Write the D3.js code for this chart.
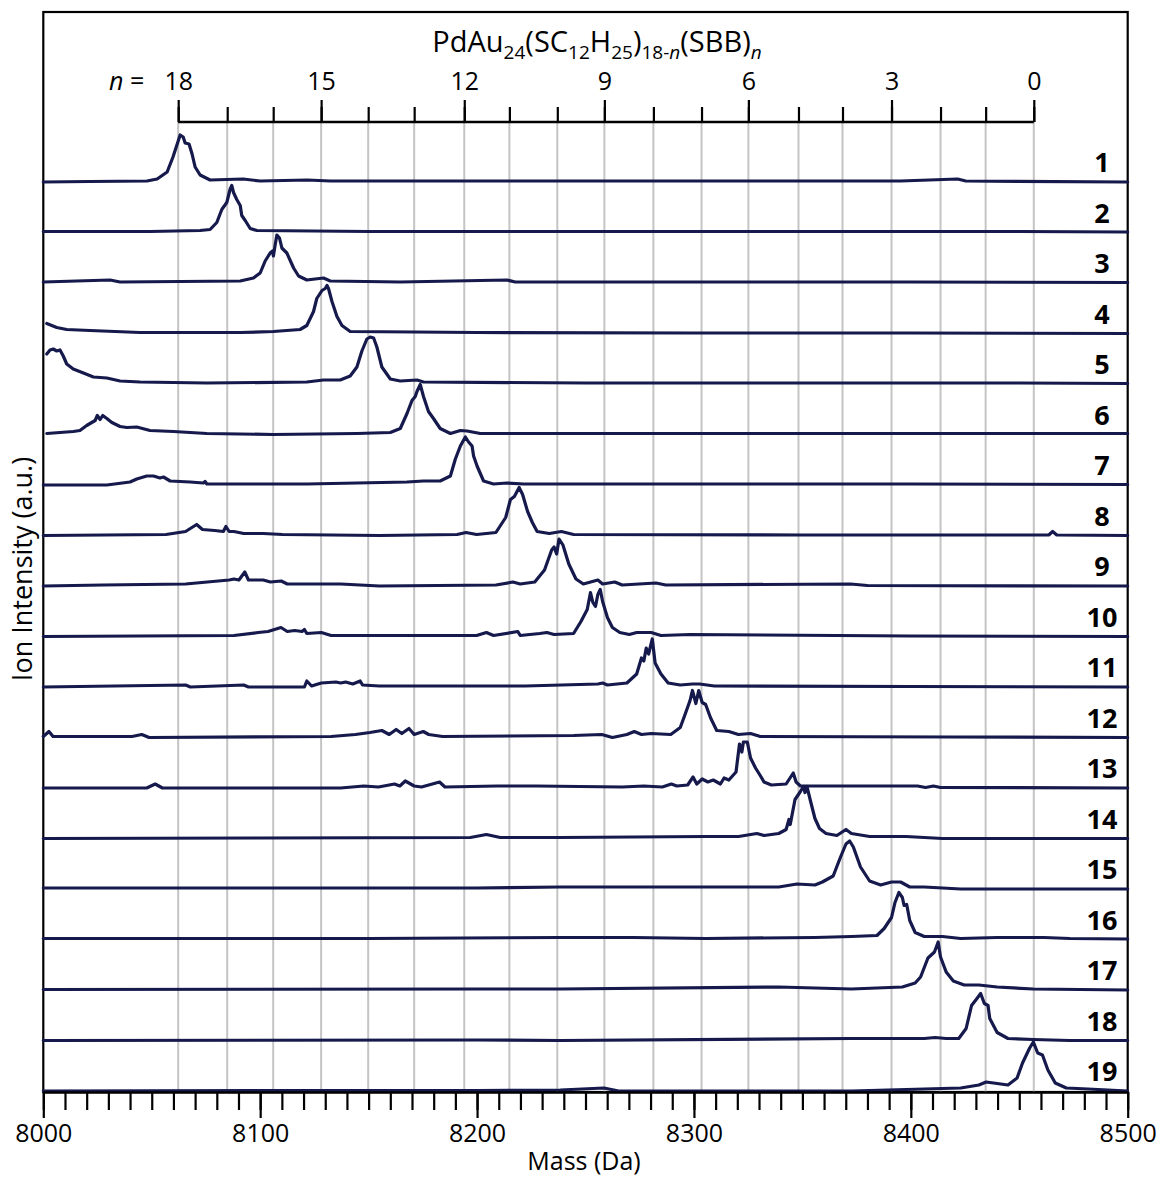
<!DOCTYPE html>
<html>
<head>
<meta charset="utf-8">
<script src="https://cdn.jsdelivr.net/npm/d3@7"></script>
<style>
  html, body { margin: 0; padding: 0; background: #fff; }
  svg { display: block; }
  text { font-family: "Open Sans", "Noto Sans", sans-serif; fill: #000; }
</style>
</head>
<body>
<svg id="chart" width="1162" height="1180"></svg>
<script>
// ---- Mass axis ticks (Da) ----
const massTicks = [8000, 8100, 8200, 8300, 8400, 8500];
const minorMassTicks = d3.range(8000, 8501, 10);

// ---- Ligand-exchange positions: n (number of SBB ligands) and their mass ----
const nValues = [18, 17, 16, 15, 14, 13, 12, 11, 10, 9, 8, 7, 6, 5, 4, 3, 2, 1, 0];
const nMass = [8062.2, 8084.8, 8106.0, 8128.1, 8149.8, 8171.0, 8194.1, 8214.9, 8237.0,
               8258.7, 8281.3, 8303.5, 8325.1, 8348.2, 8368.5, 8391.1, 8413.7, 8434.5, 8456.7];
const nLabelled = [18, 15, 12, 9, 6, 3, 0];

// ---- Sample names ----
const sampleLabels = ["1","2","3","4","5","6","7","8","9","10","11","12","13","14","15","16","17","18","19"];

// ---- Spectra: [mass (Da), ion intensity (a.u.)] ----
const spectrum1 = [[8000,0],[8021.5,1],[8047.8,2],[8052.5,6],[8057.1,20],[8059.8,50],[8063.1,94],[8064.5,90],[8065.4,78],[8067.2,76],[8068.6,56],[8070.0,30],[8072.3,14],[8076.9,4],[8092.1,6],[8100,2],[8121.7,4],[8132.3,2],[8164.6,2],[8210.7,2],[8256.9,2],[8303,2],[8349.1,2],[8395.3,2],[8421.6,6],[8425.3,2],[8500,0]];
const spectrum2 = [[8000,2],[8049.2,2],[8072.3,4],[8076.9,6],[8080.0,20],[8082.3,46],[8084.6,60],[8086.1,86],[8086.9,94],[8087.7,80],[8089.2,66],[8090.8,54],[8091.5,34],[8093.1,24],[8095.4,8],[8098.5,4],[8150,2],[8250,2],[8350,2],[8450,2],[8500,1]];
const spectrum3 = [[8000,2],[8030.8,6],[8035.4,2],[8090.8,4],[8096.9,10],[8100.0,20],[8102.3,44],[8104.6,60],[8105.7,64],[8106.1,54],[8106.9,76],[8107.7,96],[8108.9,90],[8110.0,70],[8112.3,60],[8115.4,30],[8117.7,14],[8121.5,6],[8129.2,10],[8132.3,4],[8164.6,2],[8213.8,6],[8217.6,2],[8300,2],[8400,2],[8500,1]];
const spectrum4 = [[8001.6,20],[8006.2,12],[8010.8,8],[8021.5,6],[8044.6,2],[8090.8,2],[8106.1,4],[8118.4,8],[8121.5,16],[8124.6,44],[8126.1,70],[8128.5,86],[8130.0,90],[8130.8,96],[8131.5,90],[8133.1,64],[8135.4,34],[8137.7,16],[8141.5,4],[8200,2],[8300,1],[8400,1],[8500,0]];
const spectrum5 = [[8001.6,60],[8003.1,68],[8004.6,70],[8006.2,66],[8007.7,68],[8009.2,56],[8010.8,40],[8013.8,30],[8018.5,22],[8023.1,14],[8029.3,12],[8035.4,6],[8044.6,4],[8075.4,2],[8121.5,4],[8129.2,8],[8136.9,8],[8141.5,16],[8144.6,34],[8146.9,66],[8149.2,90],[8150.7,94],[8152.3,92],[8153.8,74],[8156.1,34],[8160.0,10],[8164.6,6],[8172.3,8],[8175.3,4],[8250,2],[8350,2],[8450,2],[8500,1]];
const spectrum6 = [[8001.6,2],[8013.8,6],[8016.9,8],[8020.0,18],[8023.9,28],[8024.9,38],[8026.2,30],[8027.4,38],[8029.3,32],[8031.6,24],[8035.4,16],[8038.5,14],[8043.1,15],[8049.2,8],[8060.0,6],[8075.4,2],[8106,0],[8144.6,2],[8160.0,4],[8164.6,12],[8167.7,42],[8170.0,68],[8171.5,76],[8172.3,86],[8173.8,100],[8175.3,76],[8177.6,46],[8179.9,32],[8183.0,12],[8187.7,2],[8192.3,8],[8195.4,7],[8201.5,2],[8300,2],[8400,2],[8500,2]];
const spectrum7 = [[8000,0],[8029.3,0],[8040,6],[8043.1,12],[8047.7,18],[8050.8,18],[8053.8,14],[8055.4,16],[8058.5,8],[8067.7,6],[8073.8,4],[8074.6,7],[8075.4,2],[8121.5,2],[8167.7,6],[8175.3,8],[8183.0,8],[8187.7,18],[8190.0,52],[8192.3,78],[8194.6,96],[8196.1,86],[8197.7,78],[8198.4,58],[8200.0,38],[8203.0,8],[8207.6,2],[8213.8,4],[8221.5,2],[8300,2],[8400,2],[8500,1]];
const spectrum8 = [[8000,0],[8056.6,2],[8065.6,8],[8070.7,22],[8073.4,12],[8079.0,10],[8083.0,8],[8084.2,18],[8085.7,8],[8087.9,8],[8092.4,4],[8101.4,4],[8110.3,2],[8155,0],[8190.8,2],[8194.9,6],[8199.8,2],[8208.7,6],[8213.2,36],[8215.4,72],[8217.2,78],[8219.4,96],[8221.0,82],[8223.3,48],[8225.5,26],[8227.7,8],[8233.3,4],[8238.9,8],[8244.5,2],[8350,1],[8463.6,1],[8465.4,8],[8467.3,1],[8500,0]];
const spectrum9 = [[8000,0],[8027.5,2],[8065.6,4],[8085.7,12],[8087.9,14],[8090.2,12],[8092.9,28],[8094.6,12],[8101.4,12],[8104.7,8],[8109.7,10],[8112.5,4],[8137.1,4],[8155.0,0],[8208.7,2],[8216.5,8],[8219.9,4],[8226.6,8],[8231.1,32],[8234.4,72],[8235.5,78],[8236.7,64],[8237.8,94],[8239.6,82],[8242.3,44],[8245.6,14],[8249.0,4],[8255.7,12],[8257.9,4],[8263.5,8],[8266.9,2],[8282.5,6],[8287.0,2],[8372.2,4],[8380,1],[8500,0]];
const spectrum10 = [[8000,0],[8087.9,2],[8099.1,8],[8103.6,10],[8109.6,18],[8112.5,10],[8115.9,12],[8119.3,10],[8120.4,14],[8121.5,6],[8128.2,8],[8132.7,2],[8199.8,2],[8204.3,8],[8207.6,2],[8218.8,10],[8219.9,2],[8228.9,6],[8232.2,8],[8235.5,4],[8244.5,6],[8247.9,30],[8250.8,54],[8252.3,88],[8253.4,68],[8254.6,60],[8255.7,84],[8256.8,94],[8257.9,70],[8260.1,38],[8262.4,18],[8265.8,8],[8270.2,4],[8273.6,8],[8280.3,8],[8284.8,2],[8298.2,4],[8400,1],[8500,0]];
const spectrum11 = [[8000,0],[8065.6,4],[8067.8,0],[8092.4,4],[8094.6,0],[8120.4,0],[8121.5,12],[8123.7,2],[8128.2,8],[8134.9,10],[8137.1,8],[8139.4,10],[8142.7,6],[8146.1,12],[8147.2,4],[8155.0,2],[8222.1,2],[8255.7,6],[8257.9,8],[8260.1,4],[8269.1,8],[8273.6,26],[8275.8,58],[8276.9,52],[8278.0,78],[8279.1,66],[8280.8,96],[8282.1,48],[8284.8,26],[8288.1,8],[8293.7,4],[8299.3,6],[8302.6,6],[8309.4,2],[8400,1],[8500,0]];
const spectrum12 = [[8000,2],[8002.6,12],[8004.5,2],[8040.9,2],[8045.4,6],[8048.8,0],[8132.7,2],[8143.9,6],[8150.6,10],[8156.1,14],[8159.5,6],[8162.7,16],[8165.3,8],[8168.6,18],[8171.0,6],[8175.2,12],[8177.7,6],[8184.1,2],[8244.5,4],[8257.5,6],[8262.4,0],[8269.1,6],[8272.5,12],[8275.8,6],[8280.3,8],[8289.3,6],[8293.7,20],[8295.9,46],[8298.2,74],[8299.3,94],[8300.9,68],[8302.2,94],[8303.8,70],[8305.4,66],[8307.6,40],[8310.5,14],[8316.1,12],[8320.5,6],[8326.1,8],[8330.6,2],[8420,1],[8500,0]];
const spectrum13 = [[8000,0],[8047.7,0],[8051.6,8],[8054.9,0],[8137.1,0],[8147.8,4],[8154.5,2],[8159.5,6],[8161.9,8],[8164.4,4],[8166.9,14],[8171.0,4],[8174.4,2],[8182.7,12],[8185.2,2],[8209.2,4],[8227.5,4],[8266.9,2],[8276.9,4],[8285.4,2],[8289.6,8],[8292.1,4],[8297.1,6],[8299.6,22],[8301.3,8],[8303.8,18],[8306.4,12],[8308.9,16],[8312.2,8],[8313.9,20],[8316.1,16],[8319.4,32],[8321.0,88],[8322.1,72],[8322.8,92],[8324.6,92],[8326.1,60],[8328.4,40],[8330.7,24],[8332.3,12],[8335.7,6],[8342.5,8],[8345.8,30],[8347.1,12],[8349.1,4],[8403.1,4],[8406.8,1],[8410.4,4],[8413.7,1],[8500,0]];
const spectrum14 = [[8000,0],[8100,1],[8196.9,2],[8204.3,8],[8210.7,2],[8238.4,2],[8305.5,4],[8320.6,4],[8329.0,10],[8332.3,6],[8339.1,10],[8342.5,18],[8343.8,38],[8344.4,28],[8346.6,78],[8349.1,94],[8350.5,104],[8351.2,92],[8352.1,104],[8353.8,74],[8355.8,40],[8357.9,20],[8360.9,10],[8365.9,6],[8370.1,18],[8372.6,10],[8381.0,4],[8397.8,4],[8414.6,0],[8500,0]];
const spectrum15 = [[8000,2],[8100,2],[8200,2],[8238.4,4],[8339.1,4],[8347.5,10],[8355.8,8],[8359.2,14],[8364.2,26],[8367.6,64],[8370.1,90],[8371.8,96],[8373.5,84],[8376.8,44],[8381.0,16],[8386.1,8],[8391.1,14],[8395.3,14],[8399.5,4],[8406.2,4],[8423.0,0],[8500,0]];
const spectrum16 = [[8000,2],[8150,2],[8238.4,4],[8271.9,4],[8305.5,2],[8355.8,4],[8372.6,6],[8384.4,8],[8387.7,22],[8391.1,44],[8392.7,74],[8394.5,94],[8396.1,84],[8396.9,68],[8398.1,70],[8399.5,38],[8402.0,14],[8406.2,6],[8414.6,6],[8423.0,2],[8439.8,4],[8461.5,4],[8473.3,2],[8500,1]];
const spectrum17 = [[8000,1],[8200,2],[8238.4,2],[8339.1,6],[8372.6,2],[8396.1,6],[8402.0,14],[8404.5,26],[8407.9,64],[8410.9,76],[8412.6,96],[8413.7,66],[8416.3,36],[8419.6,18],[8424.6,10],[8431.4,10],[8439.8,6],[8456.5,2],[8500,0]];
const spectrum18 = [[8000,0],[8200,1],[8238.4,0],[8372.6,4],[8406.2,4],[8411.2,6],[8416.3,4],[8422.1,4],[8425.5,24],[8428.0,70],[8430.5,84],[8432.2,94],[8433.9,74],[8435.6,70],[8436.4,44],[8439.8,16],[8444.8,4],[8456.5,2],[8473.3,0],[8500,0]];
const spectrum19 = [[8000,0],[8100,1],[8200,1],[8238.4,2],[8258.5,6],[8265.3,0],[8372.6,0],[8423.0,6],[8431.4,12],[8434.7,18],[8438.1,16],[8444.8,12],[8449.0,26],[8451.5,56],[8454.8,86],[8456.5,98],[8458.5,76],[8460.7,72],[8463.2,42],[8466.6,16],[8471.7,6],[8481.7,4],[8500,0]];

const spectra = [spectrum1, spectrum2, spectrum3, spectrum4, spectrum5, spectrum6, spectrum7,
                 spectrum8, spectrum9, spectrum10, spectrum11, spectrum12, spectrum13,
                 spectrum14, spectrum15, spectrum16, spectrum17, spectrum18, spectrum19];

// ---- Layout ----
const plotLeft = 43.3, plotRight = 1127.7, plotTop = 12, plotBottom = 1092;
const nAxisY = 122;
const traceStep = 101;            // vertical offset between stacked spectra (a.u.)
const lineColor = "#15194b";

const svg = d3.select("#chart");

const x = d3.scaleLinear().domain([8000, 8500]).range([plotLeft, plotRight]);
const y = d3.scaleLinear().domain([0, 2158]).range([1091, plotTop]);

// Frame
svg.append("rect")
  .attr("x", plotLeft).attr("y", plotTop)
  .attr("width", plotRight - plotLeft).attr("height", plotBottom - plotTop)
  .attr("fill", "none").attr("stroke", "#000").attr("stroke-width", 2.2);

// Vertical guide lines at each n position
svg.append("g").selectAll("line")
  .data(nMass)
  .join("line")
  .attr("x1", d => x(d)).attr("x2", d => x(d))
  .attr("y1", nAxisY).attr("y2", plotBottom)
  .attr("stroke", "#c4c4c4").attr("stroke-width", 2);

// Stacked spectra
const offsetOf = i => (spectra.length - 1 - i) * traceStep;
const line = d3.line()
  .x(d => x(d[0]))
  .curve(d3.curveLinear);

svg.append("g").selectAll("path")
  .data(spectra)
  .join("path")
  .attr("d", (s, i) => line.y(d => y(d[1] + offsetOf(i)))(s))
  .attr("fill", "none")
  .attr("stroke", lineColor)
  .attr("stroke-width", 3.2)
  .attr("stroke-linejoin", "round")
  .attr("stroke-linecap", "round");

// Sample numbers
svg.append("g").selectAll("text")
  .data(sampleLabels)
  .join("text")
  .attr("x", 1102)
  .attr("y", (d, i) => y(offsetOf(i)) - 10)
  .attr("text-anchor", "middle")
  .attr("font-size", 27)
  .attr("font-weight", 700)
  .text(d => d);

// ---- Bottom mass axis ----
const styleAxis = g => {
  g.attr("font-family", null).attr("font-size", null);
  g.selectAll(".tick line").attr("stroke", "#000").attr("stroke-width", 2.2);
  g.selectAll(".domain").attr("stroke", "#000").attr("stroke-width", 2.4);
};

svg.append("g")
  .attr("transform", `translate(0,${plotBottom})`)
  .call(d3.axisBottom(x).tickValues(minorMassTicks).tickSize(18).tickSizeOuter(0).tickFormat(""))
  .call(styleAxis)
  .call(g => g.select(".domain").remove());

svg.append("g")
  .attr("transform", `translate(0,${plotBottom})`)
  .call(d3.axisBottom(x).tickValues(massTicks).tickSize(26).tickPadding(6).tickSizeOuter(0).tickFormat(d3.format("d")))
  .call(styleAxis)
  .call(g => g.selectAll(".tick text").attr("font-size", 25).attr("fill", "#000"));

svg.append("text")
  .attr("x", 584).attr("y", 1170)
  .attr("text-anchor", "middle")
  .attr("font-size", 25)
  .text("Mass (Da)");

// ---- Top n axis ----
const labelledMass = nValues.map((n, i) => [n, nMass[i]]).filter(d => nLabelled.includes(d[0]));
const massToN = new Map(labelledMass.map(d => [d[1], d[0]]));

svg.append("g")
  .attr("transform", `translate(0,${nAxisY})`)
  .call(d3.axisTop(x).tickValues(nMass).tickSize(15).tickSizeOuter(0).tickFormat(""))
  .call(styleAxis)
  .call(g => g.select(".domain").remove());

svg.append("g")
  .attr("transform", `translate(0,${nAxisY})`)
  .call(d3.axisTop(x).tickValues(labelledMass.map(d => d[1])).tickSize(22).tickPadding(10)
          .tickSizeOuter(0).tickFormat(m => massToN.get(m)))
  .call(styleAxis)
  .call(g => g.select(".domain").remove())
  .call(g => g.selectAll(".tick text").attr("font-size", 25).attr("fill", "#000"));

svg.append("line")
  .attr("x1", x(nMass[0])).attr("x2", x(nMass[nMass.length - 1]))
  .attr("y1", nAxisY).attr("y2", nAxisY)
  .attr("stroke", "#000").attr("stroke-width", 2.4);

const nEq = svg.append("text")
  .attr("x", 109).attr("y", 90)
  .attr("font-size", 25);
nEq.append("tspan").attr("font-style", "italic").text("n");
nEq.append("tspan").text(" =");

// Formula title with subscripts
const titleParts = [
  { t: "PdAu" }, { t: "24", sub: true }, { t: "(SC" }, { t: "12", sub: true },
  { t: "H" }, { t: "25", sub: true }, { t: ")" }, { t: "18-", sub: true },
  { t: "n", sub: true, it: true }, { t: "(SBB)" }, { t: "n", sub: true, it: true }
];
const title = svg.append("text")
  .attr("x", 597).attr("y", 52)
  .attr("text-anchor", "middle")
  .attr("font-size", 29);
let shift = 0;
titleParts.forEach(p => {
  const s = p.sub ? 7 : 0;
  title.append("tspan")
    .attr("dy", s - shift)
    .attr("font-size", p.sub ? 19 : 29)
    .attr("font-style", p.it ? "italic" : null)
    .text(p.t);
  shift = s;
});

// Y axis title
svg.append("text")
  .attr("transform", "translate(32,569) rotate(-90)")
  .attr("text-anchor", "middle")
  .attr("font-size", 27)
  .text("Ion Intensity (a.u.)");
</script>
</body>
</html>
